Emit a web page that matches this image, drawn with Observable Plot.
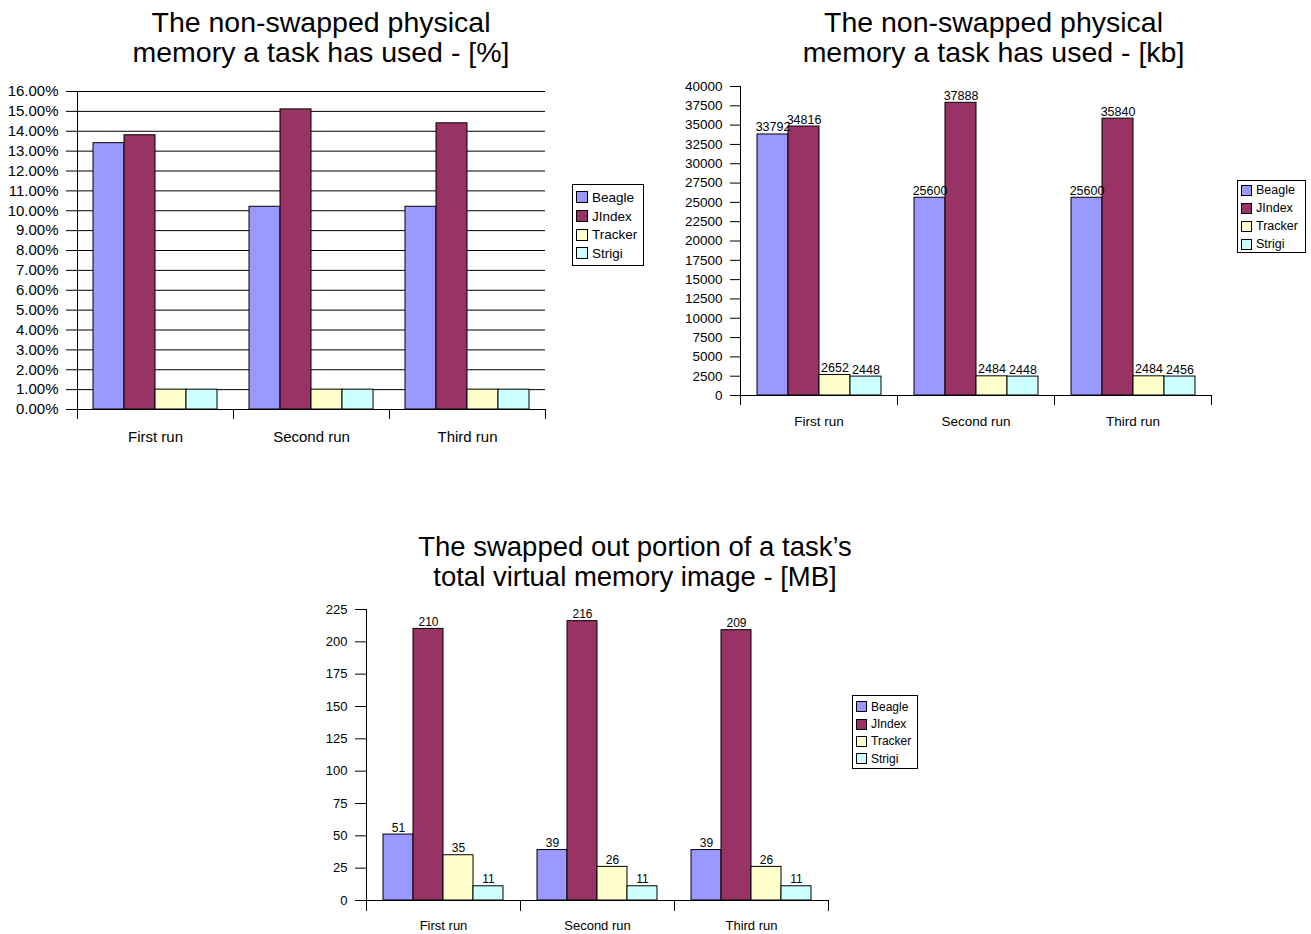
<!DOCTYPE html>
<html><head><meta charset="utf-8">
<script src="https://cdn.jsdelivr.net/npm/d3@7"></script>
<script src="https://cdn.jsdelivr.net/npm/@observablehq/plot@0.6"></script>
<style>
body{margin:0;background:#fff;font-family:"Liberation Sans",Arial,sans-serif;color:#000}
#page{position:relative;width:1311px;height:934px;overflow:hidden;background:#fff}
.title{position:absolute;text-align:center;line-height:30px;white-space:nowrap}
.chart{position:absolute}
.legend{position:absolute;border:1px solid #000;box-sizing:border-box;background:#fff}
.legend .row{display:flex;align-items:center;padding-left:3px;white-space:nowrap}
.legend .sw{box-sizing:border-box;border:1px solid #000;margin-right:4px;flex:none}
</style></head><body><div id="page"></div>
<script>
const runs = ["First run", "Second run", "Third run"];
const series = ["Beagle", "JIndex", "Tracker", "Strigi"];
const colors = ["#9999ff", "#993366", "#ffffcc", "#ccffff"];

// Chart 1: non-swapped physical memory [%]
const pctBeagle = [13.4, 10.2, 10.2];
const pctJIndex = [13.8, 15.1, 14.4];
const pctTracker = [1.0, 1.0, 1.0];
const pctStrigi = [1.0, 1.0, 1.0];
const pctTicks = [0,1,2,3,4,5,6,7,8,9,10,11,12,13,14,15,16];

// Chart 2: non-swapped physical memory [kb]
const kbBeagle = [33792, 25600, 25600];
const kbJIndex = [34816, 37888, 35840];
const kbTracker = [2652, 2484, 2484];
const kbStrigi = [2448, 2448, 2456];
const kbTicks = [0,2500,5000,7500,10000,12500,15000,17500,20000,22500,25000,27500,30000,32500,35000,37500,40000];

// Chart 3: swapped out portion [MB]
const mbBeagle = [51, 39, 39];
const mbJIndex = [210, 216, 209];
const mbTracker = [35, 26, 26];
const mbStrigi = [11, 11, 11];
const mbTicks = [0,25,50,75,100,125,150,175,200,225];

const page = document.getElementById("page");

function addDiv(cls, style, html) {
  const d = document.createElement("div");
  d.className = cls;
  Object.assign(d.style, style);
  if (html != null) d.innerHTML = html;
  page.appendChild(d);
  return d;
}

function drawChart(cfg) {
  const rows = [];
  series.forEach((s, si) => runs.forEach((r, ri) => rows.push({run: r, series: s, value: cfg.values[si][ri]})));
  const marks = [];
  if (cfg.grid) marks.push(Plot.ruleY(cfg.yTicks, {stroke: "#000", strokeWidth: 1}));
  marks.push(Plot.barY(rows, {fx: "run", x: "series", y: "value", fill: "series", stroke: "#000", strokeWidth: 1}));
  if (cfg.labels) marks.push(Plot.text(rows, {fx: "run", x: "series", y: "value", text: d => String(d.value), lineAnchor: "bottom", dy: -3, fontSize: cfg.labelFontSize, fill: "#000"}));
  marks.push(Plot.ruleY([0], {stroke: "#000", strokeWidth: 1}));
  const plot = Plot.plot({
    width: cfg.w, height: cfg.h,
    marginLeft: cfg.ml, marginRight: cfg.mr, marginTop: cfg.mt, marginBottom: cfg.mb,
    style: {fontFamily: '"Liberation Sans", Arial, sans-serif', fontSize: cfg.fontSize + "px", color: "#000", background: "transparent", overflow: "visible"},
    fx: {domain: runs, padding: 0, label: null, axis: "bottom", tickSize: 0, tickPadding: cfg.fxPad},
    x: {domain: series, paddingInner: 0, paddingOuter: 0.5, axis: null},
    y: {domain: cfg.yDomain, ticks: cfg.yTicks, tickFormat: cfg.tickFormat, tickSize: cfg.tickSize, tickPadding: 8, label: null},
    color: {domain: series, range: colors},
    marks
  });
  const holder = addDiv("chart", {left: cfg.x + "px", top: cfg.y + "px"});
  holder.appendChild(plot);

  // axis line and category separator ticks, positioned through Plot's scales
  try {
    const fx = plot.scale("fx"), y = plot.scale("y");
    const y0 = y.apply(0), yTop = y.apply(cfg.yDomain[1]);
    const xs = runs.map(r => fx.apply(r));
    xs.push(xs[xs.length - 1] + fx.bandwidth);
    const g = d3.select(plot).append("g").attr("stroke", "#000").attr("stroke-width", 1).attr("shape-rendering", "crispEdges");
    g.append("line").attr("x1", xs[0] + 0.5).attr("x2", xs[0] + 0.5).attr("y1", yTop).attr("y2", y0);
    xs.forEach(x => g.append("line").attr("x1", x + 0.5).attr("x2", x + 0.5).attr("y1", y0).attr("y2", y0 + cfg.sepLen));
  } catch (e) { console.error(e); }

  addDiv("title", {left: (cfg.titleCx - 400) + "px", width: "800px", top: cfg.titleTop + "px", fontSize: cfg.titleSize + "px"}, cfg.title.join("<br>"));

  const lg = addDiv("legend", {left: cfg.lg.x + "px", top: cfg.lg.y + "px", width: cfg.lg.w + "px", height: cfg.lg.h + "px", paddingTop: cfg.lg.pt + "px", fontSize: cfg.lg.fs + "px"});
  series.forEach((s, i) => {
    const row = document.createElement("div");
    row.className = "row";
    row.style.height = cfg.lg.rh + "px";
    const sw = document.createElement("span");
    sw.className = "sw";
    sw.style.width = cfg.lg.sw + "px"; sw.style.height = cfg.lg.sw + "px";
    sw.style.background = colors[i];
    const t = document.createElement("span");
    t.textContent = s;
    row.appendChild(sw); row.appendChild(t);
    lg.appendChild(row);
  });
}

drawChart({
  values: [pctBeagle, pctJIndex, pctTracker, pctStrigi],
  x: 0, y: 80, w: 560, h: 370, ml: 77, mr: 15, mt: 11, mb: 41,
  yDomain: [0, 16], yTicks: pctTicks, tickFormat: d => d.toFixed(2) + "%",
  fontSize: 15, tickSize: 11, fxPad: 22, grid: true, labels: false, sepLen: 10,
  title: ["The non-swapped physical", "memory a task has used - [%]"], titleCx: 321, titleTop: 7, titleSize: 28.5,
  lg: {x: 572, y: 184, w: 72, h: 82, pt: 3, rh: 18.7, fs: 13.5, sw: 12}
});

drawChart({
  values: [kbBeagle, kbJIndex, kbTracker, kbStrigi],
  x: 680, y: 78, w: 545, h: 360, ml: 59, mr: 14, mt: 8, mb: 43,
  yDomain: [0, 40000], yTicks: kbTicks, tickFormat: d => String(d),
  fontSize: 13.5, tickSize: 10, fxPad: 21, grid: false, labels: true, labelFontSize: 12.5, sepLen: 10,
  title: ["The non-swapped physical", "memory a task has used - [kb]"], titleCx: 993.5, titleTop: 7, titleSize: 28.5,
  lg: {x: 1237, y: 180, w: 69, h: 73, pt: 0, rh: 18, fs: 12.5, sw: 11}
});

drawChart({
  values: [mbBeagle, mbJIndex, mbTracker, mbStrigi],
  x: 300, y: 598, w: 545, h: 336, ml: 65, mr: 17, mt: 11, mb: 34,
  yDomain: [0, 225], yTicks: mbTicks, tickFormat: d => String(d),
  fontSize: 13, tickSize: 11, fxPad: 20, grid: false, labels: true, labelFontSize: 12, sepLen: 11,
  title: ["The swapped out portion of a task’s", "total virtual memory image - [MB]"], titleCx: 635, titleTop: 532, titleSize: 27.5,
  lg: {x: 852, y: 695, w: 66, h: 74, pt: 2, rh: 17.4, fs: 12, sw: 11}
});
</script>
</body></html>
